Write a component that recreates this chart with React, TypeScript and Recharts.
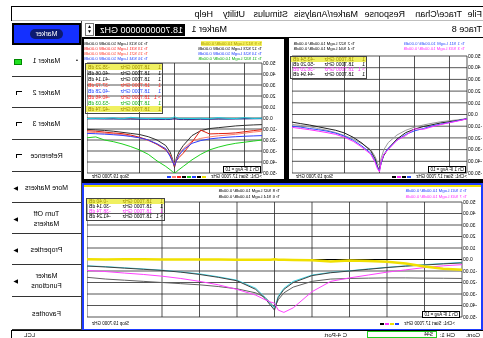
import React from 'react';
import { LineChart, Line, XAxis, YAxis, CartesianGrid, ReferenceLine } from 'recharts';

const FONT = '"Liberation Sans", Arial, sans-serif';

const menuItems = ['File', 'Trace/Chan', 'Response', 'Marker/Analysis', 'Stimulus', 'Utility', 'Help'];
const menuX = [1, 21, 78, 125, 195, 238, 270];

// frequency points (GHz), denser round the 18.7 GHz notch
const freqs = [17.7, 17.8, 17.9, 18.0, 18.1, 18.2, 18.3, 18.4, 18.5, 18.6, 18.65, 18.68, 18.7, 18.72, 18.75, 18.8, 18.9, 19.0, 19.1, 19.2, 19.3, 19.4, 19.5, 19.6, 19.7];
const xTicks = [17.7, 17.9, 18.1, 18.3, 18.5, 18.7, 18.9, 19.1, 19.3, 19.5, 19.7];
const yTicks = [50, 40, 30, 20, 10, 0, -10, -20, -30, -40, -50];

// window 1 (reflection)
const s11 = [-3.6, -5.2, -6.8, -8.2, -9.8, -12, -14, -17, -22, -29, -34, -41, -48, -46, -40, -33, -27, -22, -18.5, -16, -14.2, -13, -12, -10.8, -10];
const s22 = [-3.5, -4.5, -5.3, -6.2, -7.5, -9.0, -10.8, -13.5, -17.5, -24, -30, -37, -44, -42, -36, -30, -25, -21, -18, -15.5, -13.5, -12, -10.5, -9.3, -8.5];
const s33 = [-3.8, -5.5, -7.0, -8.6, -10.5, -12.7, -12.2, -18, -22, -30, -34, -40, -49, -47, -41, -34, -28, -23, -19.5, -17, -15.5, -14.2, -13, -12, -11];
const s44 = [-3.7, -5.0, -6.2, -7.2, -8.8, -10.3, -12.5, -15.5, -21, -29, -35, -41, -47, -45, -38, -31, -24.5, -19.5, -15.8, -13.5, -12, -10.5, -9, -7.8, -6.5];

// window 2 (transmission)
const s13 = [-6.0, -6.3, -6.7, -7.2, -8.0, -8.8, -9.6, -11.5, -16, -25, -31, -37, -45, -38, -31, -25, -20, -17, -15, -14, -13, -12, -11.3, -10.8, -10.3];
const s31 = [-10.6, -11.5, -12.5, -13.5, -14.0, -14.2, -14.5, -11, -22, -32, -36, -39, -44, -40, -34, -29, -24, -20, -17.5, -15.5, -14.2, -13.6, -12.8, -12.0, -11.5];
const s21 = [-12.0, -12.8, -13.8, -14.8, -15.5, -16.2, -17.2, -18.5, -21, -28, -33, -38, -42, -39, -33, -28, -23.5, -20.5, -18, -16.5, -15.2, -14.5, -13.8, -13.2, -12.8];
const s24 = [-16, -16.3, -16.6, -17, -17.5, -18.2, -19, -20.5, -23, -29, -34, -39, -43, -40, -35, -28, -23.5, -20, -18, -16.8, -15.8, -15.2, -14.7, -14.3, -14];
const s32 = [-20, -21, -22, -23, -24.5, -26.5, -29, -33, -38, -44, -47, -49, -50, -49, -47, -44, -39, -33, -29, -26, -23.5, -21.5, -20, -17.2, -18];
const s34 = [-0.6, -0.7, -0.8, -0.9, -1.0, -1.0, -1.1, -1.1, -1.2, -1.2, -1.2, -1.0, -0.8, -1.0, -1.2, -1.2, -1.2, -1.1, -1.1, -1.0, -1.0, -0.9, -0.9, -0.8, -0.8];
const s12 = [-0.2, -0.4, 0.3, -0.5, -0.3, 0.4, -0.6, -0.2, -0.5, -0.3, -0.4, 0.5, 1.2, 0.3, -0.4, -0.6, -0.3, -0.5, -0.2, 0.6, -0.8, 0.2, -0.4, -0.3, -0.5];

// window 3
const s42 = [-9, -8, -6, -3.5, -2, -1.2, -0.8, -1.8, -0.6, -0.4, -0.3, -0.2, 0.2, -0.2, -0.3, -0.3, -0.2, -0.1, 0, 0.1, 0.1, 0.2, 0.2, 0.1, 0.3];
const s41 = [-3.0, -3.8, -4.8, -5.8, -7.0, -8.5, -10, -11.5, -14, -20, -26, -33, -44, -40, -34, -26, -18.5, -15.5, -13, -11, -9.5, -8.5, -7.5, -6.5, -5.7];
const s14 = [-16.5, -16.3, -16.2, -16.0, -16.0, -16.2, -16.5, -17.0, -19, -24, -29, -35, -42, -38, -33, -29, -25.5, -23.5, -22, -21, -20, -19, -18, -17, -15.5];
const s43 = [-4.5, -5.5, -7, -9, -11, -13.5, -16, -19, -28, -42, -46, -44, -38, -37, -35, -31, -26, -22, -19, -16.5, -14.5, -13, -11.8, -10.5, -9.5];
const s23 = [-2.5, -3.5, -4.5, -5.5, -6.8, -8.2, -9.8, -11.2, -13.5, -19, -25, -32, -42, -39, -33, -25, -18, -15, -12.5, -10.8, -9.3, -8.2, -7.2, -6.2, -5.5];

const rows = freqs.map((f, i) => ({
  f, s11: s11[i], s22: s22[i], s33: s33[i], s44: s44[i],
  s13: s13[i], s31: s31[i], s21: s21[i], s24: s24[i], s32: s32[i], s34: s34[i], s12: s12[i],
  s42: s42[i], s41: s41[i], s14: s14[i], s43: s43[i], s23: s23[i],
}));

const win1Series = [
  { key: 's22', color: '#9a9a9a' },
  { key: 's44', color: '#202020' },
  { key: 's11', color: '#3050ff' },
  { key: 's33', color: '#ff30ff' },
];
const win2Series = [
  { key: 's34', color: '#10107a' },
  { key: 's12', color: '#20d0e0' },
  { key: 's13', color: '#303030' },
  { key: 's21', color: '#ff8070' },
  { key: 's31', color: '#e02010' },
  { key: 's24', color: '#3040ff' },
  { key: 's32', color: '#20d020' },
];
const win3Series = [
  { key: 's14', color: '#606060' },
  { key: 's23', color: '#40d8e8' },
  { key: 's41', color: '#404040' },
  { key: 's43', color: '#ff40ff' },
  { key: 's42', color: '#f0e000', width: 2.5 },
];

const win1Legend = [
  ['Tr 1 S11 LogM 10.00dB/ 0.00dB', '#3050ff', 'Tr 2 S22 LogM 10.00dB/ 0.00dB', '#000'],
  ['Tr 3 S33 LogM 10.00dB/ 0.00dB', '#ff30ff', 'Tr 4 S44 LogM 10.00dB/ 0.00dB', '#000'],
];
const win2Legend = [
  ['Tr 9 S12 LogM 10.00dB/ 0.00dB', '#b0a000', 'Tr 10 S13 LogM 10.00dB/ 0.00dB', '#000'],
  ['Tr 12 S23 LogM 10.00dB/ 0.00dB', '#000', 'Tr 13 S31 LogM 10.00dB/ 0.00dB', '#ff2020'],
  ['Tr 14 S24 LogM 10.00dB/ 0.00dB', '#2040ff', 'Tr 15 S21 LogM 10.00dB/ 0.00dB', '#ff4030'],
  ['Tr 11 S32 LogM 10.00dB/ 0.00dB', '#10b010', 'Tr 16 S34 LogM 10.00dB/ 0.00dB', '#2040ff'],
];
const win3Legend = [
  ['Tr 5 S41 LogM 10.00dB/ 0.00dB', '#2040ff', 'Tr 8 S42 LogM 10.00dB/ 0.00dB', '#000'],
  ['Tr 7 S43 LogM 10.00dB/ 0.00dB', '#ff30ff', 'Tr 6 S14 LogM 10.00dB/ 0.00dB', '#000'],
];

const win1Markers = [['1', '-43.54', '#a09000', true], ['1', '-50.20', '#000'], ['> 1', '-36.20', '#ff30ff'], ['1', '-44.94', '#000']];
const win2Markers = [
  ['1', '-35.23', '#a09000', true], ['1', '-40.06', '#000'], ['1', '-41.14', '#000'], ['1', '-37.72', '#ff3020'],
  ['1', '-40.28', '#2040ff'], ['> 1', '-40.46', '#ff2020'], ['1', '-53.03', '#10b010'], ['1', '-42.74', '#a09000', true],
];
const win3Markers = [['1', '-0.40', '#a09000', true], ['1', '-30.14', '#000'], ['1', '-38.74', '#ff30ff'], ['> 1', '-41.24', '#000']];

const softkeys = [
  { label: 'Marker 1', y: 45, h: 32, mark: 'dot' },
  { label: 'Marker 2', y: 77, h: 31, mark: 'box' },
  { label: 'Marker 3', y: 108, h: 32, mark: 'box' },
  { label: 'Reference', y: 140, h: 32, mark: 'box' },
  { label: 'More Markers', y: 172, h: 31, mark: 'arrow' },
  { label: 'Turn Off\nMarkers', y: 203, h: 31, mark: 'arrow' },
  { label: 'Properties', y: 234, h: 31, mark: 'arrow' },
  { label: 'Marker\nFunctions', y: 265, h: 32, mark: 'arrow' },
  { label: 'Favorites', y: 297, h: 33, mark: '' },
];

const abs = (x: number, y: number, extra: any = {}) => ({ position: 'absolute' as const, left: x, top: y, ...extra });

function Plot({ x, y, labelW, plotW, plotH, series, refZero }: any) {
  return (
    <div style={abs(x, y - 3)}>
      <LineChart width={labelW + plotW} height={plotH + 6} data={rows} margin={{ top: 3, right: 0, bottom: 3, left: 0 }}>
        <CartesianGrid stroke="#2a2a2a" strokeWidth={0.8} />
        <XAxis dataKey="f" type="number" domain={[17.7, 19.7]} ticks={xTicks} hide />
        <YAxis
          type="number"
          domain={[-50, 50]}
          ticks={yTicks}
          allowDataOverflow
          width={labelW}
          axisLine={false}
          tickLine={false}
          tickSize={0}
          tickMargin={1}
          interval={0}
          tick={{ fontSize: 5, fill: '#000', fontFamily: FONT }}
          tickFormatter={(v: number) => v.toFixed(2)}
        />
        {refZero && <ReferenceLine y={0} stroke="#000" strokeWidth={1} />}
        {series.map((s: any) => (
          <Line key={s.key} dataKey={s.key} type="linear" stroke={s.color} strokeWidth={s.width || 1}
            dot={false} isAnimationActive={false} />
        ))}
      </LineChart>
    </div>
  );
}

function Legend({ x1, x2, y, rowsData, step = 5 }: any) {
  return (
    <>
      {rowsData.map((r: any, i: number) => (
        <React.Fragment key={i}>
          <div style={abs(x1, y + i * step, { fontSize: 4.3, lineHeight: '5px', color: r[1], whiteSpace: 'pre', background: i === 0 && r[1] === '#b0a000' ? '#f4f060' : 'transparent' })}>{r[0]}</div>
          <div style={abs(x2, y + i * step, { fontSize: 4.3, lineHeight: '5px', color: r[3], whiteSpace: 'pre' })}>{r[2]}</div>
        </React.Fragment>
      ))}
    </>
  );
}

function Readout({ x, y, w, items, step }: any) {
  return (
    <div style={abs(x, y, { width: w, height: items.length * step + 1, border: '1px solid #444', zIndex: 2 })}>
      {items.map((m: any, i: number) => (
        <div key={i} style={abs(0, i * step, { width: w, height: step, fontSize: 5, lineHeight: step + 'px', color: m[2], background: m[3] ? '#f0f060' : 'transparent' })}>
          <span style={abs(1, 0)}>{m[0]}</span>
          <span style={abs(12, 0)}>18.7000 GHz</span>
          <span style={abs(w - 25, 0, { width: 23, textAlign: 'right' })}>{m[1]} dB</span>
        </div>
      ))}
    </div>
  );
}

function Footer({ x, y, w, colors }: any) {
  return (
    <>
      <div style={abs(x, y, { fontSize: 4.5, lineHeight: '5px', whiteSpace: 'pre' })}>{'>Ch1: Start 17.7000 GHz'}</div>
      <div style={abs(x + 56, y + 2, { display: 'flex', gap: 1 })}>
        {colors.map((c: string, i: number) => (
          <span key={i} style={{ display: 'inline-block', width: 4, height: 1.5, background: c }} />
        ))}
      </div>
      <div style={abs(x + w - 42, y, { fontSize: 4.5, lineHeight: '5px', whiteSpace: 'pre' })}>Stop 19.7000 GHz</div>
    </>
  );
}

function AvgBox({ x, y }: any) {
  return (
    <div style={abs(x, y, { fontSize: 4.5, lineHeight: '5px', border: '0.5px solid #000', padding: '0 1px', background: '#fff', zIndex: 2, whiteSpace: 'pre' })}>Ch 1 IF Avg = 10</div>
  );
}

export default function App() {
  return (
    <div style={{ position: 'fixed', left: 0, top: 0, width: 483, height: 338, overflow: 'hidden', background: '#fff', transform: 'scaleX(-1)', fontFamily: FONT, color: '#000' }}>
      {/* screen edge */}
      <div style={abs(0, 6, { width: 472, height: 332, borderTop: '1px solid #000', borderRight: '1px solid #000', boxSizing: 'border-box' })} />

      {/* menu bar */}
      {menuItems.map((m, i) => (
        <div key={m} style={abs(menuX[i], 9, { fontSize: 9, lineHeight: '11px', whiteSpace: 'pre' })}>{m}</div>
      ))}
      <div style={abs(0, 20, { width: 471, height: 1, background: '#bbb' })} />

      {/* toolbar row */}
      <div style={abs(1, 24, { fontSize: 9, lineHeight: '11px' })}>Trace 8</div>
      <div style={abs(256, 24, { fontSize: 9, lineHeight: '11px' })}>Marker 1</div>
      <div style={abs(298, 24, { width: 90, height: 12, background: '#000', color: '#fff', fontSize: 9, lineHeight: '12px', paddingLeft: 2, boxSizing: 'border-box', whiteSpace: 'pre' })}>18.7000000000 GHz</div>
      <div style={abs(389, 23, { width: 9, height: 13, border: '1px solid #777', boxSizing: 'border-box', fontSize: 5, lineHeight: '5px', textAlign: 'center' })}>▲<br />▼</div>

      {/* chart frames */}
      <div style={abs(0, 37, { width: 401, height: 146, background: '#000' })} />
      <div style={abs(0, 38, { width: 194, height: 141, background: '#fff' })} />
      <div style={abs(199, 39, { width: 200, height: 140, background: '#fff' })} />
      <div style={abs(0, 183, { width: 401, height: 148, background: '#fff', border: '2px solid #1e3cff', boxSizing: 'border-box' })} />
      <div style={abs(2, 185, { width: 397, height: 1.5, background: '#f0e000' })} />

      {/* window 1 */}
      <Legend x1={18} x2={128} y={41} rowsData={win1Legend} />
      <Plot x={0} y={56} labelW={16} plotW={175} plotH={117} series={win1Series} />
      <Readout x={116} y={56} w={75} items={win1Markers} step={5} />
      <AvgBox x={17} y={166} />
      <Footer x={16} y={174} w={176} colors={['#3050ff', '#000', '#ff30ff', '#000']} />

      {/* window 2 */}
      <Legend x1={221} x2={335} y={41} rowsData={win2Legend} />
      <Plot x={200} y={63} labelW={21} plotW={175} plotH={110} series={win2Series} />
      <Readout x={320} y={63} w={76} items={win2Markers} step={6} />
      <AvgBox x={222} y={166} />
      <Footer x={221} y={174} w={175} colors={['#f0e000', '#000', '#2040ff', '#20d020', '#000', '#ff2020', '#ff8070', '#2040ff']} />

      {/* window 3 */}
      <Legend x1={16} x2={203} y={188} rowsData={win3Legend} step={6} />
      <Plot x={0} y={202} labelW={21} plotW={375} plotH={115} series={win3Series} refZero />
      <Readout x={318} y={198} w={77} items={win3Markers} step={5} />
      <AvgBox x={23} y={311} />
      <Footer x={28} y={321} w={368} colors={['#2040ff', '#f0e000', '#ff30ff', '#000']} />

      {/* softkey panel (drawn over the windows' right edge) */}
      <div style={abs(401, 21, { width: 71, height: 310, background: '#fff', borderLeft: '1px solid #444', boxSizing: 'border-box' })} />
      <div style={abs(402, 23, { width: 69, height: 22, background: '#1430ff', border: '2px solid #000', boxSizing: 'border-box', display: 'flex', alignItems: 'center', justifyContent: 'center' })}>
        <span style={{ background: '#0c1a70', color: '#fff', borderRadius: 6, fontSize: 7, padding: '1px 6px', lineHeight: '8px' }}>Marker</span>
      </div>
      {softkeys.map((k) => (
        <div key={k.label} style={abs(402, k.y, { width: 69, height: k.h, borderBottom: '1.5px solid #333', boxSizing: 'border-box' })}>
          {k.mark === 'dot' && <span style={abs(3, k.h / 2 - 4, { fontSize: 6, lineHeight: '6px' })}>•</span>}
          <span style={abs(34.5, k.h / 2 - (k.label.includes('\n') ? 10 : 5), { transform: 'translateX(-50%)', textAlign: 'center', fontSize: 7, lineHeight: '10px', whiteSpace: 'pre' })}>
            {k.label}
          </span>
          {k.mark === 'dot' && <span style={abs(59, k.h / 2 - 2, { width: 6, height: 4, background: '#20e020', border: '0.5px solid #080' })} />}
          {k.mark === 'box' && <span style={abs(59, k.h / 2 - 2, { width: 5, height: 3, borderTop: '1px solid #000', borderRight: '1px solid #000' })} />}
          {k.mark === 'arrow' && <span style={abs(63, k.h / 2 - 3, { fontSize: 6, lineHeight: '6px' })}>▶</span>}
        </div>
      ))}

      {/* status bar */}
      <div style={abs(0, 330, { width: 472, height: 1, background: '#000' })} />
      <div style={abs(3, 332, { fontSize: 6, lineHeight: '6px' })}>Cont.</div>
      <div style={abs(28, 332, { fontSize: 6, lineHeight: '6px' })}>CH 1:</div>
      <div style={abs(46, 331, { width: 70, height: 7, border: '1px solid #20d020', boxSizing: 'border-box', fontSize: 5, lineHeight: '5px', paddingLeft: 3 })}>S44</div>
      <div style={abs(136, 332, { fontSize: 6, lineHeight: '6px' })}>C 4-Port</div>
      <div style={abs(448, 332, { fontSize: 6, lineHeight: '6px' })}>LCL</div>
    </div>
  );
}
